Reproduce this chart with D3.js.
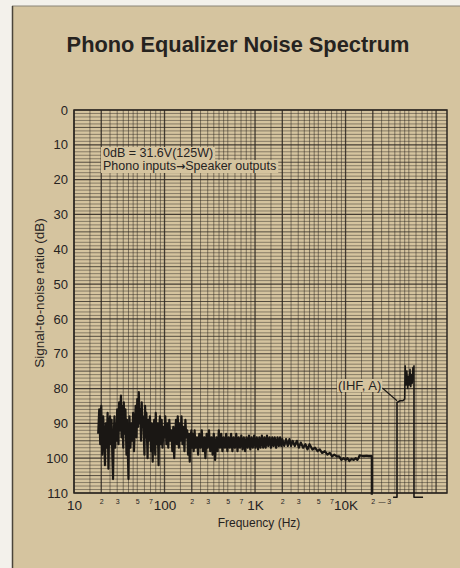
<!DOCTYPE html>
<html><head><meta charset="utf-8">
<script src="https://cdn.jsdelivr.net/npm/d3@7"></script>
<style>html,body{margin:0;padding:0;background:#f3f1eb;} svg{display:block}</style>
</head><body>
<svg id="c" width="460" height="568"></svg>
<script>
const chartTitle = "Phono Equalizer Noise Spectrum";
const yTicks = [0,10,20,30,40,50,60,70,80,90,100,110];
const xMajorTicks = [10,100,1000,10000];
const xMajorLabels = ["10","100","1K","10K"];
const xMinorTicks = [20,30,50,70,200,300,500,700,2000,3000,5000,7000,20000,25000,30000];
const xMinorLabels = ["2","3","5","7","2","3","5","7","2","3","5","7","2","—","3"];
const noteLine1 = "0dB = 31.6V(125W)";
const noteLine2 = ["Phono inputs", "\u2192", "Speaker outputs"];
const ihfLabel = "(IHF, A)";

const noiseHz = [18.5,19,19.5,20,20.5,21,21.5,22,22.5,23,23.5,24,24.5,25,25.5,26,26.5,27,27.5,28,28.5,29,29.5,30,31,31.5,32,33,33.5,34,35,35.5,36,37,38,38.5,39,40,40.5,41,42,43,44,45,46,47,48,49,50,51,52,53,54,55,56,57,58,60,61,62,63,65,66,67,69,71,72,74,75,77,79,80,82,84,86,87,89,91,93,95,98,100,102,105,108,110,113,116,119,122,125,128,131,134,137,140,144,147,150,154,158,162,166,170,174,178,182,186,190,194,198,200,
205,210,215,220,228,235,242,250,258,266,275,283,292,300,310,320,330,340,350,362,374,386,398,410,423,436,450,465,480,495,510,527,544,562,580,600,620,640,660,682,705,728,752,777,803,830,857,886,915,945,977,1010,1045,1080,1115,1150,1190,1230,1270,1310,1355,1400,1450,1500,1550,1600,1650,1710,1770,1830,1890,1950,2000,
2100,2200,2300,2400,2500,2600,2750,2900,3050,3200,3400,3600,3800,4000,4300,4600,4900,5200,5500,5900,6300,6700,7100,7500,8000,8500,9000,9500,10000,10500,11000,11700,12300,13000,13500,14000,14300,15000,16000,17000,18000,19000,19500,19500];
const noiseDb = [93,86,96,85,99,88,94,102,90,97,87,103,91,88,96,89,99,106,93,88,97,90,95,86,96,84,92,82,94,85,97,84,93,86,99,89,95,106,93,88,97,90,95,87,98,91,85,94,83,91,81,90,86,95,84,91,88,99,85,94,87,100,89,95,88,98,90,101,92,89,99,87,96,90,102,93,88,96,89,97,91,94,88,96,90,97,89,95,92,98,91,100,93,89,96,88,97,90,95,88,96,91,98,89,94,92,99,93,101,94,92,97,
93,98,92,97,94,99,93,97,92,98,94,100,93,97,92,98,94,99,93,100.5,94,98,92,97,93,98,94,97,93,98,94,97,93,98,94,97,93,98,94,97,93.5,97.5,94,98,94,97,93.5,97.5,94,97,93.5,97,94,97.5,94,97,93.5,97,94,97,93.5,96.5,94,97,94,96.5,94,97,94,96.5,94,96.5,94.5,
96.5,94.5,96.5,94.5,96.5,95,96.5,95,97,95.5,97,96,97.5,96,97.5,97,98,97.5,98.5,98,99,98.5,99.5,99,99.5,99.5,100.5,100,100.5,100,100.8,100.2,100.5,100,100.5,99.8,99.2,99.3,99.4,99.3,99.4,99.4,99.4,110.5];

const ihfHz = [33500,37000,37000,40000,43000,45000,45500,46500,47500,48500,49500,50500,51500,52500,53500,54500,55500,56500,57000,57000,71800];
const ihfDb = [111.2,111.2,84,83.5,83.5,83,73.5,79,75,80,76.5,79,74.5,79.5,76,78.5,74,77,73.5,111.2,111.2];

const tan = "#d5c49f", ink = "#2b2620", textCol = "#26231f";
const font = "Liberation Sans, Arial, sans-serif";
const svg = d3.select("#c");
svg.append("rect").attr("x",12).attr("y",6).attr("width",460).attr("height",580).attr("fill",tan);
svg.append("line").attr("x1",12).attr("x2",460).attr("y1",6).attr("y2",6).attr("stroke","#8a8478").attr("stroke-width",1);
svg.append("line").attr("x1",12.5).attr("x2",12.5).attr("y1",6).attr("y2",568).attr("stroke","#4a443a").attr("stroke-width",1.5);

svg.append("text").attr("x",238).attr("y",52).attr("text-anchor","middle")
  .attr("font-family",font).attr("font-weight","bold").attr("font-size",21.8)
  .attr("fill",textCol).text(chartTitle);

const x = d3.scaleLog().domain([10,132000]).range([74,447]);
const y = d3.scaleLinear().domain([0,110]).range([110,493]);
const [x0,x1] = x.range(), [y0,y1] = y.range();

const g = svg.append("g");
const hLines = d3.range(0,111,1);
g.selectAll(".h").data(hLines).join("line")
  .attr("x1",x0).attr("x2",x1).attr("y1",d=>y(d)).attr("y2",d=>y(d))
  .attr("stroke",ink).attr("stroke-opacity",0.85)
  .attr("stroke-width",d=>d%10===0?1.2:(d%5===0?0.9:0.55));
const mult = [1,1.5,2,2.5,3,3.5,4,4.5,5,6,7,8,9];
const vLines = [];
[10,100,1000,10000,100000].forEach(dec=>mult.forEach(m=>{const v=dec*m; if(v<=132000) vLines.push({v,m});}));
g.selectAll(".v").data(vLines).join("line")
  .attr("x1",d=>x(d.v)).attr("x2",d=>x(d.v)).attr("y1",y0).attr("y2",y1)
  .attr("stroke",ink).attr("stroke-opacity",0.85)
  .attr("stroke-width",d=>(d.m===1||d.m===2)?1.3:0.6);
g.append("rect").attr("x",x0).attr("y",y0).attr("width",x1-x0).attr("height",y1-y0)
  .attr("fill","none").attr("stroke",ink).attr("stroke-width",1.5);

const ya = svg.append("g").attr("transform",`translate(${x0},0)`)
  .call(d3.axisLeft(y).tickValues(yTicks).tickSize(0).tickPadding(6));
ya.select(".domain").remove();
ya.selectAll("text").attr("font-family",font).attr("font-size",13).attr("fill",textCol);

const xa = svg.append("g").attr("transform",`translate(0,${y1})`)
  .call(d3.axisBottom(x).tickValues(xMajorTicks).tickFormat((d,i)=>xMajorLabels[i]).tickSize(0).tickPadding(7));
xa.select(".domain").remove();
xa.selectAll("text").attr("font-family",font).attr("font-size",13.5).attr("fill",textCol);
const xm = svg.append("g").attr("transform",`translate(0,${y1})`)
  .call(d3.axisBottom(x).tickValues(xMinorTicks).tickFormat((d,i)=>xMinorLabels[i]).tickSize(0).tickPadding(6));
xm.select(".domain").remove();
xm.selectAll("text").attr("font-family",font).attr("font-size",7).attr("fill",textCol);

svg.append("text").attr("transform","translate(44,293) rotate(-90)").attr("text-anchor","middle")
  .attr("font-family",font).attr("font-size",13.5).attr("fill",textCol).text("Signal-to-noise ratio (dB)");
svg.append("text").attr("x",259).attr("y",527).attr("text-anchor","middle")
  .attr("font-family",font).attr("font-size",12).attr("fill",textCol).text("Frequency (Hz)");

const bgLayer = svg.append("g");
const txtLayer = svg.append("g");
const t1 = txtLayer.append("text").attr("x",103).attr("y",157).attr("font-family",font).attr("font-size",12.5).attr("fill",textCol).text(noteLine1);
const t2 = txtLayer.append("text").attr("x",103).attr("y",170).attr("font-family",font).attr("font-size",12.5).attr("fill",textCol);
t2.append("tspan").text(noteLine2[0]);
t2.append("tspan").attr("font-family","DejaVu Sans").attr("font-weight","bold").attr("font-size",11).text(noteLine2[1]);
t2.append("tspan").text(noteLine2[2]);
[t1,t2].forEach(t=>{const bb=t.node().getBBox();
  bgLayer.append("rect").attr("x",bb.x-2).attr("y",bb.y+1).attr("width",bb.width+4).attr("height",bb.height-1).attr("fill",tan);});

const line = d3.line().x(d=>x(d[0])).y(d=>y(d[1]));
svg.append("path").datum(noiseHz.map((f,i)=>[f,noiseDb[i]])).attr("d",line)
  .attr("fill","none").attr("stroke","#1a1714").attr("stroke-width",2.2).attr("stroke-linejoin","round");
svg.append("path").datum(ihfHz.map((f,i)=>[f,ihfDb[i]])).attr("d",line)
  .attr("fill","none").attr("stroke","#1a1714").attr("stroke-width",1.6).attr("stroke-linejoin","round");

const ihfBg = svg.append("g");
const il = svg.append("text").attr("x",338).attr("y",390).attr("font-family",font).attr("font-size",13).attr("fill",textCol).text(ihfLabel);
const ib = il.node().getBBox();
ihfBg.append("rect").attr("x",ib.x-1).attr("y",ib.y+1).attr("width",ib.width+2).attr("height",ib.height-2).attr("fill",tan);
svg.append("line").attr("x1",ib.x+ib.width+1).attr("y1",388).attr("x2",x(37000)).attr("y2",y(83.5))
  .attr("stroke","#1a1714").attr("stroke-width",1.1);
</script>
</body></html>
